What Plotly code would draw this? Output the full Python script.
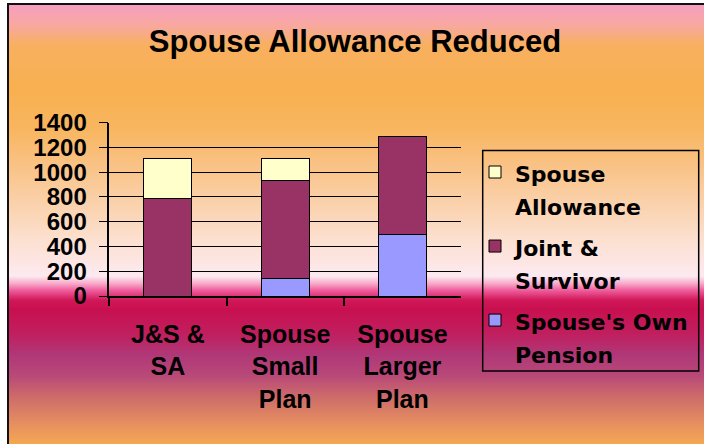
import plotly.graph_objects as go

# ---- data ----
categories = ["J&S &<br>SA", "Spouse<br>Small<br>Plan", "Spouse<br>Larger<br>Plan"]
own_pension = [0, 145, 500]
joint_survivor = [790, 790, 790]
spouse_allowance = [320, 175, 0]
y_ticks = [0, 200, 400, 600, 800, 1000, 1200, 1400]

W, H = 704, 444


def px(x):
    return x / W


def py(y):
    return 1 - y / H


LEG_SPAN = '<span style="font-size:22px">{}</span>'


def leg(lines):
    return "<br>".join(LEG_SPAN.format(s) for s in lines)


fig = go.Figure()
fig.add_trace(go.Bar(x=categories, y=own_pension, name=leg(["Spouse's Own", "Pension"]),
                     marker=dict(color="#9999FF", line=dict(color="black", width=1)),
                     legendgroup="c", legendrank=3))
fig.add_trace(go.Bar(x=categories, y=joint_survivor, name=leg(["Joint &", "Survivor"]),
                     marker=dict(color="#993366", line=dict(color="black", width=1)),
                     legendgroup="b", legendrank=2))
fig.add_trace(go.Bar(x=categories, y=spouse_allowance, name=leg(["Spouse", "Allowance"]),
                     marker=dict(color="#FFFFCC", line=dict(color="black", width=1)),
                     legendgroup="a", legendrank=1))

# background gradient (style only)
stops = [
    (5, (247, 158, 192)), (25, (248, 168, 160)), (45, (248, 176, 96)),
    (90, (248, 176, 80)), (130, (248, 182, 96)), (160, (249, 192, 128)),
    (200, (250, 208, 168)), (240, (252, 224, 208)), (265, (253, 230, 230)),
    (276, (252, 234, 240)), (283, (248, 176, 204)), (290, (240, 96, 160)),
    (300, (208, 24, 88)), (310, (200, 16, 80)), (335, (192, 32, 96)),
    (355, (176, 56, 120)), (375, (184, 72, 120)), (400, (208, 112, 104)),
    (425, (232, 144, 96)), (444, (244, 168, 80)),
]


def color_at(y):
    for (y0, c0), (y1, c1) in zip(stops[:-1], stops[1:]):
        if y0 <= y <= y1:
            t = (y - y0) / (y1 - y0) if y1 > y0 else 0
            return "rgb({},{},{})".format(*[round(a + (b - a) * t) for a, b in zip(c0, c1)])
    return "rgb({},{},{})".format(*stops[-1][1])


shapes = []
for yy in range(5, 444):
    shapes.append(dict(type="rect", xref="paper", yref="paper", layer="below",
                       x0=px(9), x1=px(704), y0=py(yy + 1.6), y1=py(yy),
                       fillcolor=color_at(yy + 0.5), line=dict(width=0)))
shapes.append(dict(type="rect", xref="paper", yref="paper", layer="below",
                   x0=px(8), x1=px(712), y0=py(452), y1=py(4),
                   line=dict(color="#111111", width=2), fillcolor="rgba(0,0,0,0)"))
shapes.append(dict(type="rect", xref="paper", yref="paper", layer="above",
                   x0=px(482.7), x1=px(698.7), y0=py(371), y1=py(150.5),
                   line=dict(color="black", width=1.5), fillcolor="rgba(0,0,0,0)"))

fig.update_layout(
    width=W, height=H,
    margin=dict(l=0, r=0, t=0, b=0, autoexpand=False),
    paper_bgcolor="white", plot_bgcolor="rgba(0,0,0,0)",
    barmode="stack", bargap=0.59,
    shapes=shapes,
    title=dict(text="Spouse Allowance Reduced", x=px(355), y=py(41),
               xref="paper", yref="paper", xanchor="center", yanchor="middle",
               font=dict(family="Liberation Sans, Arial", size=31, color="black", weight="bold")),
    xaxis=dict(domain=[px(109.3), px(461)], showline=True, linecolor="black", linewidth=1.5,
               ticks="outside", tickson="boundaries", ticklen=8, tickcolor="black", tickwidth=1.5,
               tickfont=dict(family="Liberation Sans, Arial", size=25, color="black", weight="bold"),
               ticklabelstandoff=15, showgrid=False),
    yaxis=dict(domain=[py(296), py(122.7)], range=[0, 1400], tickvals=y_ticks,
               showgrid=True, gridcolor="black", gridwidth=1, zeroline=False,
               showline=True, linecolor="black", linewidth=1.5,
               ticks="outside", ticklen=9, tickcolor="black", tickwidth=1,
               tickfont=dict(family="Liberation Sans, Arial", size=24, color="black", weight="bold"),
               ticklabelstandoff=7),
    legend=dict(x=px(475), y=py(149), xanchor="left", yanchor="top",
                bgcolor="rgba(0,0,0,0)", borderwidth=0,
                font=dict(family="DejaVu Sans", size=25.4, color="black", weight="bold"),
                traceorder="grouped", valign="top", tracegroupgap=5),
    showlegend=True,
)

fig.write_html("out.html", config={"displayModeBar": False},
               post_script="document.body.style.margin='0px';")
